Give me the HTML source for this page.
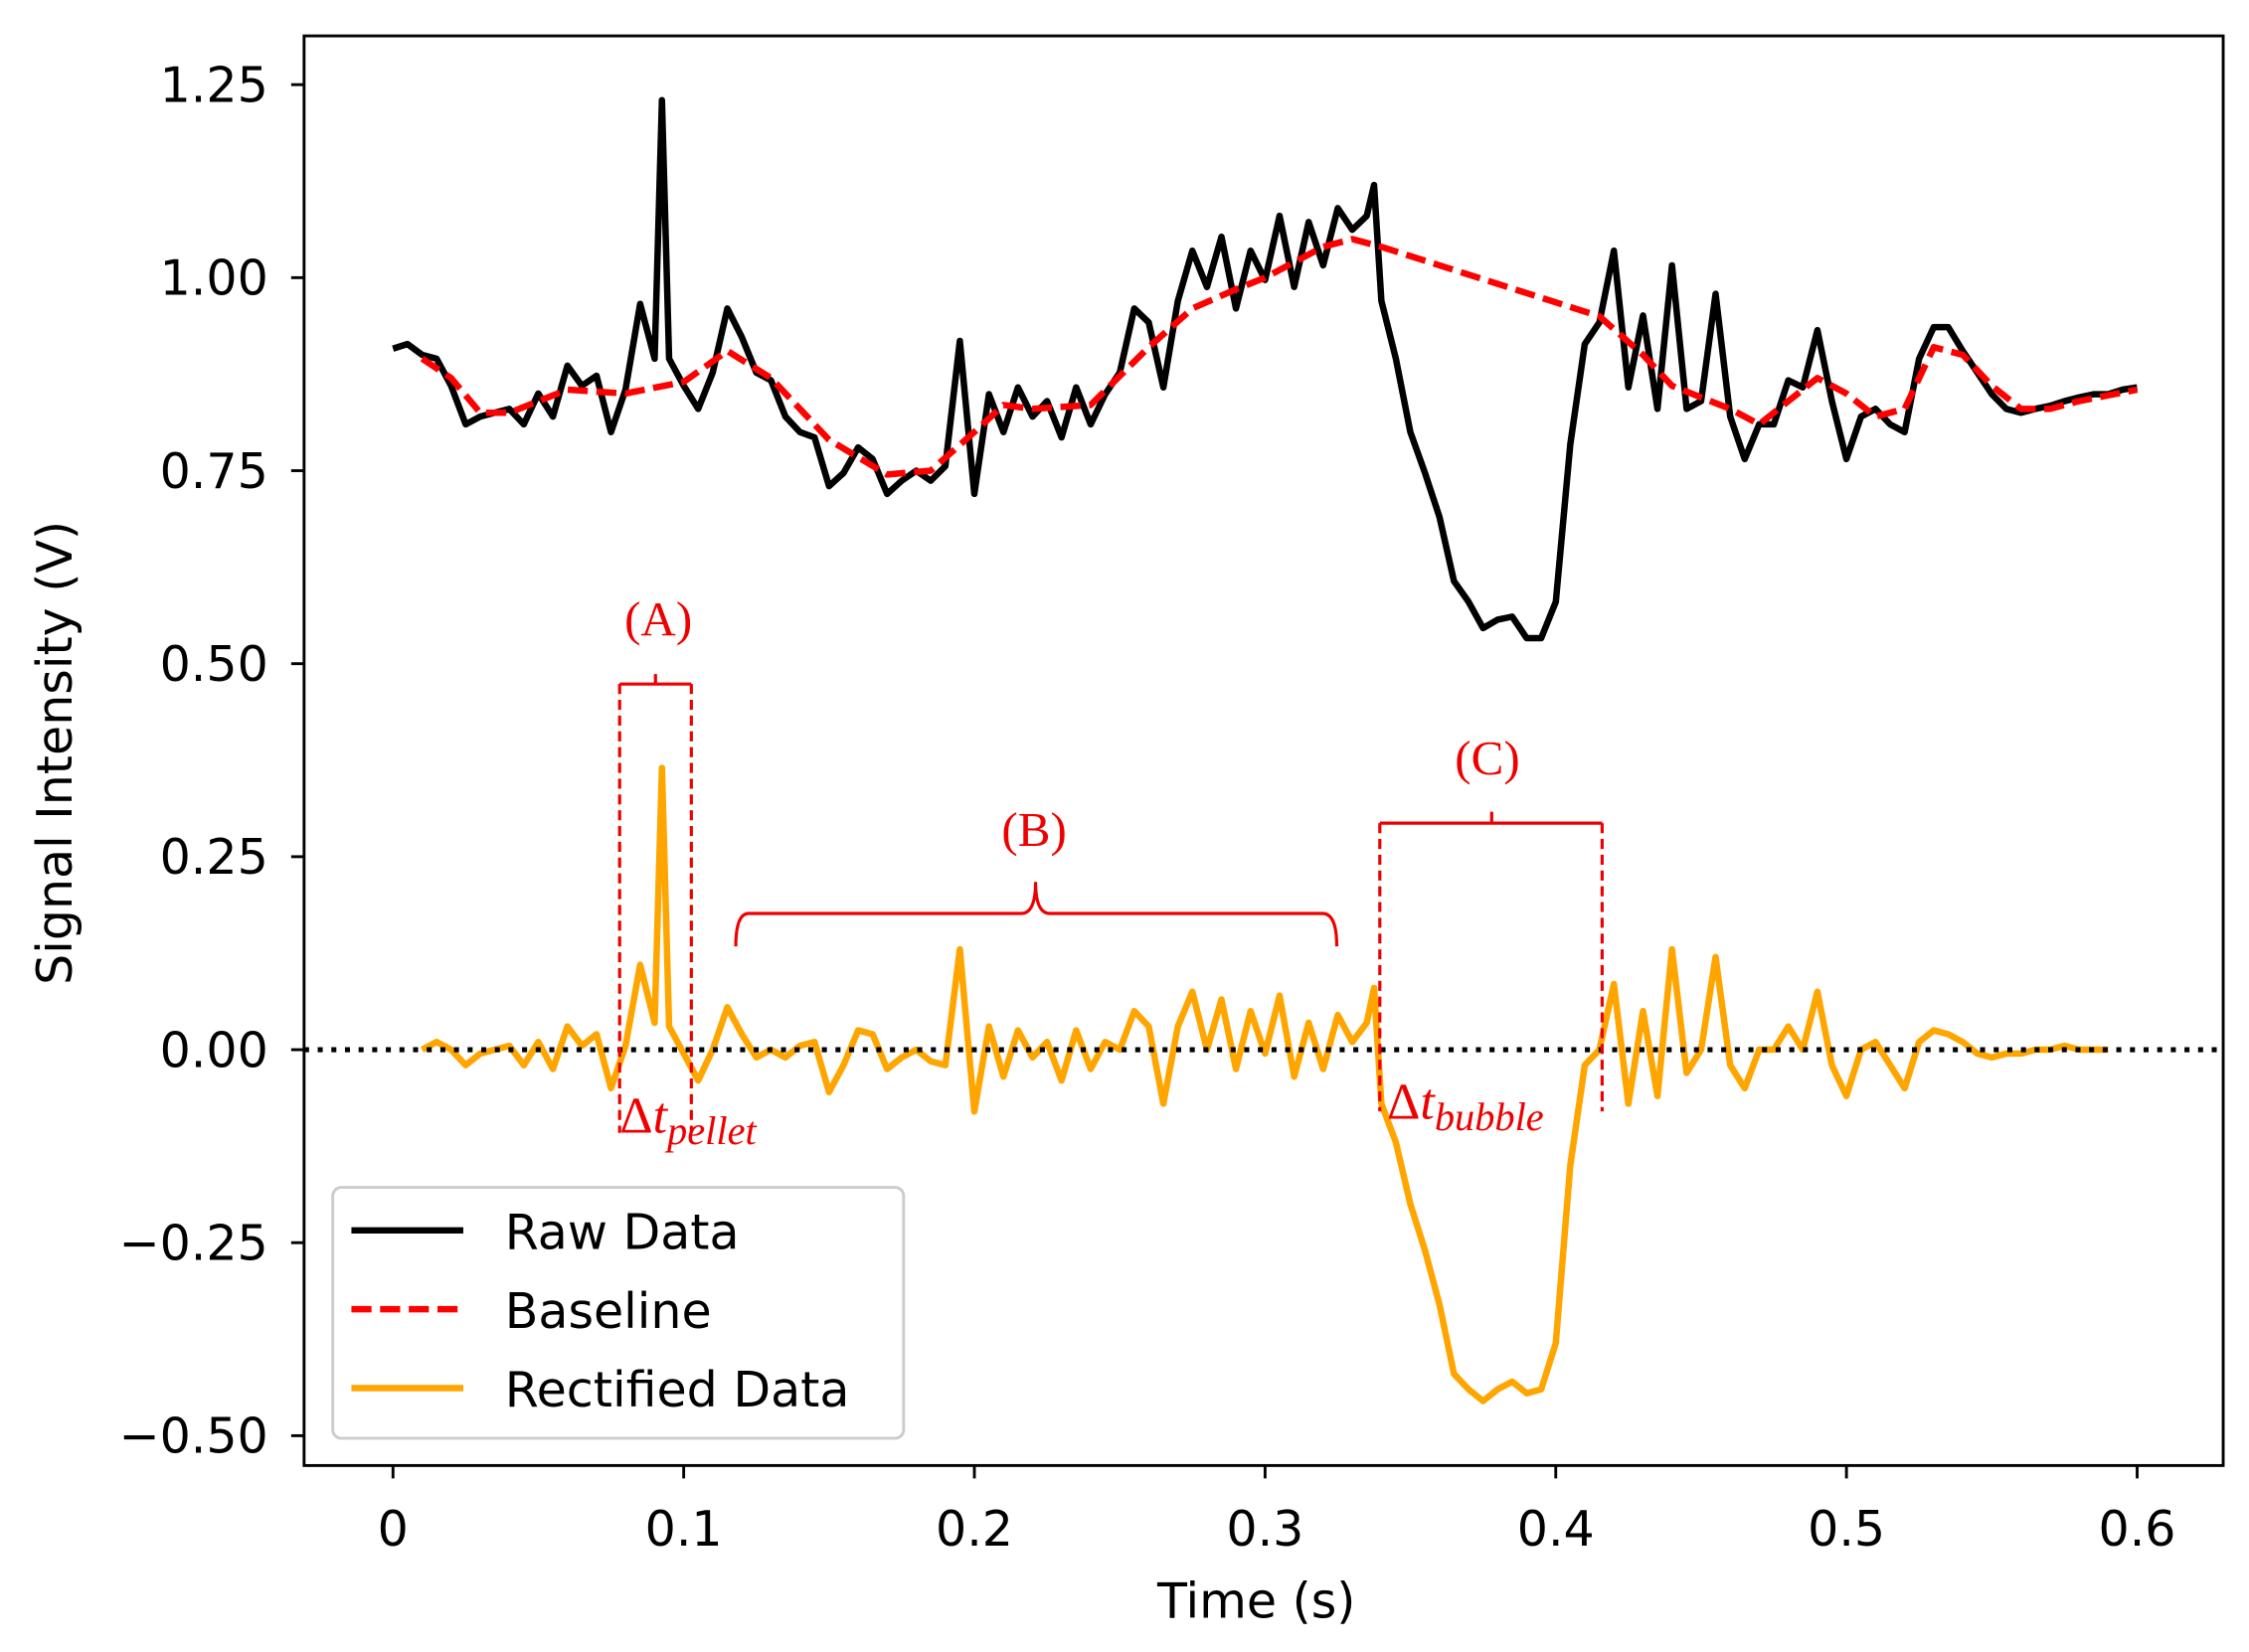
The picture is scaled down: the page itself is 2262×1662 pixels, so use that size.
<!DOCTYPE html>
<html><head><meta charset="utf-8"><style>
html,body{margin:0;padding:0;background:#fff}
svg{display:block}
text{font-family:"DejaVu Sans","Liberation Sans",sans-serif}
.ser{font-family:"Liberation Serif","DejaVu Serif",serif;fill:#e00}
</style></head><body>
<svg id="chart" xmlns="http://www.w3.org/2000/svg" width="2262" height="1662" viewBox="0 0 1568 1152">
<rect width="1568" height="1152" fill="#fff"/>
<g id="plot"></g>
<line x1="212" y1="732" x2="1550" y2="732" stroke="#000" stroke-width="3.5" stroke-dasharray="3.5,6"/>
<g id="annot" fill="none" stroke="#e00" stroke-width="2.2">
<path d="M432,477 H482 M457,477 V470"/>
<path d="M432,477 V790" stroke-dasharray="7,4"/>
<path d="M482,477 V790" stroke-dasharray="7,4"/>
<path d="M513,660 Q513,637 522,637 H712 Q722,637 722,615 Q722,637 732,637 H922 Q932,637 932,660"/>
<path d="M962,574 H1117 M1040,574 V566"/>
<path d="M962,574 V775" stroke-dasharray="7,4"/>
<path d="M1117,574 V775" stroke-dasharray="7,4"/>
</g>
<text class="ser" x="459" y="443" font-size="34" text-anchor="middle">(A)</text>
<text class="ser" x="721" y="590" font-size="34" text-anchor="middle">(B)</text>
<text class="ser" x="1037" y="540" font-size="34" text-anchor="middle">(C)</text>
<text class="ser" x="432" y="790" font-size="36">Δ<tspan font-style="italic">t</tspan><tspan font-style="italic" font-size="28" dy="8">pellet</tspan></text>
<text class="ser" x="967" y="780" font-size="36">Δ<tspan font-style="italic">t</tspan><tspan font-style="italic" font-size="28" dy="8">bubble</tspan></text>
<rect x="212" y="25" width="1338" height="997" fill="none" stroke="#000" stroke-width="2"/>
<g id="axes"></g>
<text x="876" y="1128" font-size="34" text-anchor="middle">Time (s)</text>
<text transform="translate(50,525) rotate(-90)" font-size="34" text-anchor="middle">Signal Intensity (V)</text>
<g>
<rect x="232" y="828" width="398" height="175" rx="6" fill="#fff" fill-opacity="0.85" stroke="#ccc" stroke-width="2"/>
<line x1="245" y1="858" x2="323" y2="858" stroke="#000" stroke-width="4.5"/>
<text x="352" y="871" font-size="34">Raw Data</text>
<line x1="245" y1="913" x2="323" y2="913" stroke="#f00" stroke-width="4.5" stroke-dasharray="14,6"/>
<text x="352" y="926" font-size="34">Baseline</text>
<line x1="245" y1="968" x2="323" y2="968" stroke="#ffa500" stroke-width="4.5"/>
<text x="352" y="981" font-size="34">Rectified Data</text>
</g>
</svg>
<script>
const rawT=[0,0.005,0.01,0.015,0.02,0.025,0.03,0.035,0.04,0.045,0.05,0.055,0.06,0.065,0.07,0.075,0.08,0.085,0.09,0.0925,0.095,0.1,0.105,0.11,0.115,0.12,0.125,0.13,0.135,0.14,0.145,0.15,0.155,0.16,0.165,0.17,0.175,0.18,0.185,0.19,0.195,0.2,0.205,0.21,0.215,0.22,0.225,0.23,0.235,0.24,0.245,0.25,0.255,0.26,0.265,0.27,0.275,0.28,0.285,0.29,0.295,0.3,0.305,0.31,0.315,0.32,0.325,0.33,0.335,0.3375,0.34,0.345,0.35,0.355,0.36,0.365,0.37,0.375,0.38,0.385,0.39,0.395,0.4,0.405,0.41,0.415,0.42,0.425,0.43,0.435,0.44,0.445,0.45,0.455,0.46,0.465,0.47,0.475,0.48,0.485,0.49,0.495,0.5,0.505,0.51,0.515,0.52,0.525,0.53,0.535,0.54,0.545,0.55,0.555,0.56,0.565,0.57,0.575,0.58,0.585,0.59,0.595,0.6];
const rawV=[0.908,0.914,0.9,0.895,0.86,0.81,0.82,0.825,0.83,0.81,0.85,0.82,0.886,0.86,0.873,0.8,0.855,0.966,0.895,1.23,0.895,0.86,0.83,0.877,0.96,0.923,0.877,0.867,0.82,0.8,0.793,0.73,0.747,0.78,0.765,0.72,0.737,0.75,0.737,0.756,0.918,0.72,0.849,0.8,0.858,0.82,0.84,0.793,0.858,0.81,0.849,0.877,0.96,0.942,0.858,0.97,1.035,0.988,1.053,0.96,1.035,0.997,1.08,0.988,1.072,1.016,1.09,1.062,1.08,1.12,0.97,0.895,0.8,0.747,0.69,0.607,0.58,0.546,0.557,0.561,0.533,0.533,0.58,0.784,0.914,0.942,1.035,0.858,0.951,0.83,1.016,0.83,0.84,0.979,0.82,0.765,0.81,0.81,0.867,0.858,0.932,0.84,0.765,0.82,0.83,0.81,0.8,0.895,0.936,0.936,0.905,0.877,0.849,0.83,0.825,0.83,0.834,0.84,0.845,0.849,0.849,0.855,0.858];
const baseT=[0.01,0.02,0.03,0.04,0.06,0.08,0.1,0.115,0.13,0.15,0.17,0.185,0.2,0.21,0.22,0.24,0.26,0.275,0.29,0.3,0.31,0.32,0.33,0.34,0.415,0.43,0.44,0.45,0.46,0.47,0.48,0.49,0.5,0.51,0.52,0.53,0.54,0.55,0.56,0.57,0.58,0.6];
const baseV=[0.895,0.87,0.825,0.825,0.855,0.85,0.865,0.905,0.87,0.79,0.745,0.75,0.8,0.835,0.83,0.835,0.91,0.96,0.985,1.0,1.02,1.04,1.05,1.04,0.95,0.9,0.86,0.845,0.83,0.81,0.84,0.87,0.85,0.82,0.83,0.91,0.9,0.86,0.83,0.83,0.84,0.855];
const recT=rawT.slice(2,rawT.length-2);
const recV=[0.0,0.01,0.0,-0.02,-0.005,0.0,0.005,-0.02,0.01,-0.025,0.03,0.005,0.02,-0.05,0.005,0.11,0.035,0.365,0.03,-0.005,-0.04,0.0,0.055,0.02,-0.01,0.0,-0.01,0.005,0.01,-0.055,-0.02,0.025,0.02,-0.025,-0.01,0.0,-0.015,-0.02,0.13,-0.08,0.03,-0.035,0.025,-0.01,0.01,-0.04,0.025,-0.025,0.01,0.0,0.05,0.03,-0.07,0.03,0.075,0.0,0.065,-0.025,0.05,-0.005,0.07,-0.035,0.035,-0.025,0.045,0.01,0.035,0.08,-0.07,-0.12,-0.2,-0.26,-0.33,-0.42,-0.44,-0.455,-0.44,-0.43,-0.445,-0.44,-0.38,-0.15,-0.02,0.0,0.085,-0.07,0.05,-0.06,0.13,-0.03,0.0,0.12,-0.02,-0.05,0.0,0.0,0.03,0.0,0.075,-0.02,-0.06,0.0,0.01,-0.02,-0.05,0.01,0.025,0.02,0.01,-0.005,-0.01,-0.005,-0.005,0.0,0.0,0.005,0.0,0.0,0.0];
const xTicks=[0,0.1,0.2,0.3,0.4,0.5,0.6];
const xTickLabels=["0","0.1","0.2","0.3","0.4","0.5","0.6"];
const yTicks=[1.25,1.0,0.75,0.5,0.25,0,-0.25,-0.5];
const yTickLabels=["1.25","1.00","0.75","0.50","0.25","0.00","\u22120.25","\u22120.50"];

const NS="http://www.w3.org/2000/svg";
const xS=t=>274+t*2026.7;
const yS=v=>732-v*538.4;
const plot=document.getElementById('plot');
const axes=document.getElementById('axes');
function line(T,V,color,w,dash,name){
  const p=document.createElementNS(NS,'polyline');
  p.setAttribute('points',T.map((t,i)=>xS(t).toFixed(1)+','+yS(V[i]).toFixed(1)).join(' '));
  p.setAttribute('fill','none');p.setAttribute('stroke',color);p.setAttribute('stroke-width',w);
  p.setAttribute('stroke-linejoin','round');
  if(dash)p.setAttribute('stroke-dasharray',dash);
  
  
  plot.appendChild(p);
}
line(rawT,rawV,'#000',4.5,null,'raw-data-line');
line(baseT,baseV,'#f00',4.5,'14,6','baseline-line');
line(recT,recV,'#ffa500',4.5,null,'rectified-data-line');
xTicks.forEach((t,i)=>{
  const l=document.createElementNS(NS,'line');
  l.setAttribute('x1',xS(t));l.setAttribute('x2',xS(t));l.setAttribute('y1',1022);l.setAttribute('y2',1031);
  l.setAttribute('stroke','#000');l.setAttribute('stroke-width',2);
  
  
  axes.appendChild(l);
  const tx=document.createElementNS(NS,'text');
  tx.setAttribute('x',xS(t));tx.setAttribute('y',1078);tx.setAttribute('font-size','34');tx.setAttribute('text-anchor','middle');
  tx.textContent=xTickLabels[i];
  
  
  axes.appendChild(tx);
});
yTicks.forEach((v,i)=>{
  const l=document.createElementNS(NS,'line');
  l.setAttribute('x1',203);l.setAttribute('x2',212);l.setAttribute('y1',yS(v));l.setAttribute('y2',yS(v));
  l.setAttribute('stroke','#000');l.setAttribute('stroke-width',2);
  
  
  axes.appendChild(l);
  const tx=document.createElementNS(NS,'text');
  tx.setAttribute('x',187);tx.setAttribute('y',yS(v)+12);tx.setAttribute('font-size','34');tx.setAttribute('text-anchor','end');
  tx.textContent=yTickLabels[i];
  
  
  axes.appendChild(tx);
});
</script>
</body></html>
